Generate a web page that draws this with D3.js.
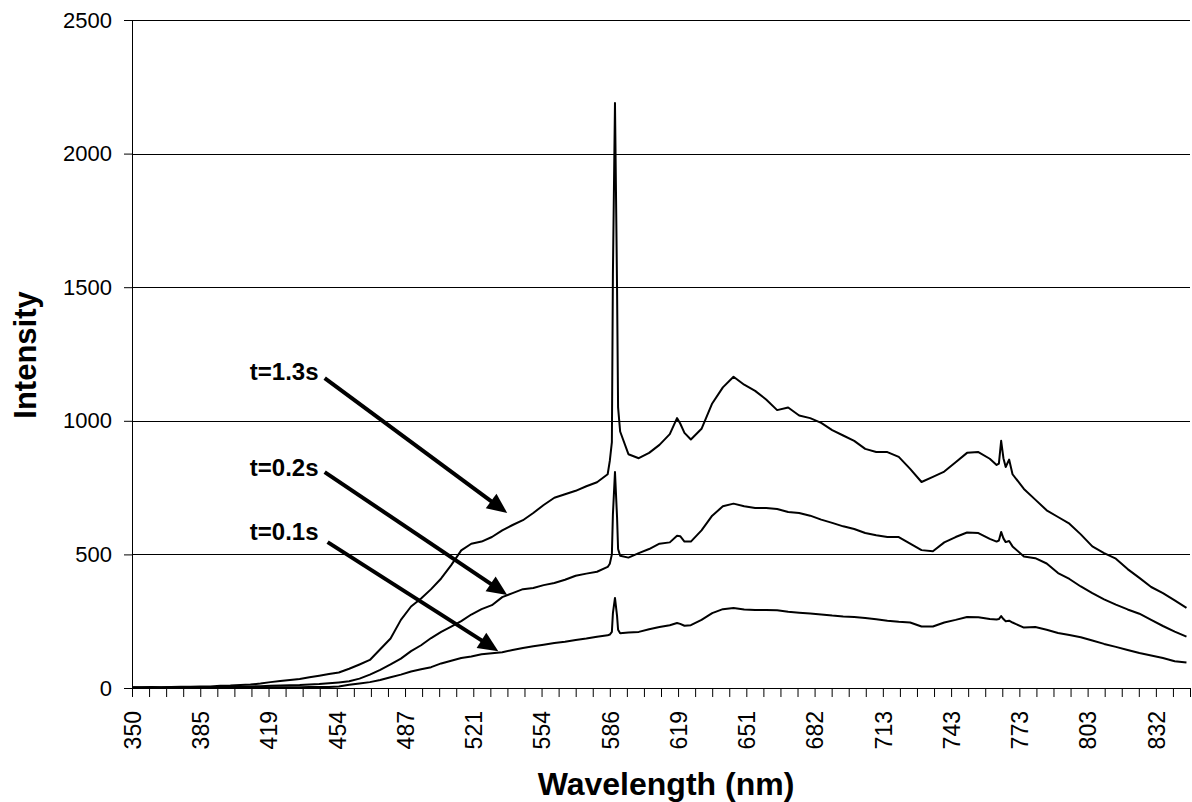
<!DOCTYPE html>
<html>
<head>
<meta charset="utf-8">
<script src="https://cdn.jsdelivr.net/npm/d3@7"></script>
<style>
  body { margin: 0; background: #fff; }
  svg { display: block; }
  text { font-family: "Liberation Sans", Arial, sans-serif; fill: #000; }
</style>
</head>
<body>
<svg id="chart" width="1192" height="802"></svg>
<script>
// ---------------- data ----------------
const tickLabels = [350, 385, 419, 454, 487, 521, 554, 586, 619, 651, 682, 713, 743, 773, 803, 832];
const axisEndWavelength = 846.5;
const yTicks = [0, 500, 1000, 1500, 2000, 2500];

const wavelengths = [
  350,355,360,365,370,375,380,385,390,395,400,405,410,415,420,425,430,435,440,445,450,455,
  460,465,470,475,480,485,490,495,500,505,510,515,520,525,530,535,540,545,550,555,560,565,
  570,575,580,585,
  586,587,587.5,588.5,589.5,590,591,
  595,600,605,610,615,
  618.5,620,622,
  625,630,635,640,645,650,655,660,665,670,675,680,685,690,695,700,705,710,715,720,725,730,
  735,740,745,750,755,760,
  763,764,765,766,767,768.5,770,
  775,780,785,790,795,800,805,810,815,820,825,830,835,840,845
];

const t13 = [
  3,3,4,3,4,5,5,6, 6,8,9,11,13,17, 22,26,30,34,40,46,52,58,
  72,88,105,145,185,255, 305,335,370,410,460,515,540, 548,565,590,610,628,655,
  685,712,725,738,755,770,800,
  850,920,1550,2189,1500,1050,960,
  875,860,880,910,950,
  1010,990,955,
  930,970,1065,1125,1165,1135,1112,1080,1040,1050,1020,1010,992,965,945,925,895,883,883,865,
  820,771,790,810,845,880,883,858,
  835,840,925,860,827,855,800,
  745,705,665,640,615,575,530,505,484,445,412,378,355,328,300
];

const t02 = [
  2,2,2,2,3,3,3,4, 4,4,5,5,6,7, 8,9,10,11,13,15,18,21,
  25,35,50,68,88,110, 138,160,187,210,230,250,275, 295,310,340,355,370,374,
  385,393,405,420,428,435,453,
  465,500,650,808,640,520,495,
  488,505,520,540,545,
  570,568,548,
  548,590,645,680,690,680,674,674,670,659,655,645,630,618,605,595,580,572,565,565,
  540,516,512,545,565,582,580,558,
  548,552,584,560,546,550,530,
  492,486,466,430,408,380,355,332,312,294,278,255,232,211,192
];

const t01 = [
  1,1,1,1,1,1,1,1, 2,2,2,2,2,3, 3,3,3,3,4,4,4,6,
  12,17,22,30,40,50, 62,70,78,92,102,112,118, 126,130,134,142,150,156,
  162,168,173,180,185,192,197,
  200,210,280,337,270,218,205,
  208,210,220,228,235,
  243,240,233,
  235,255,280,295,299,294,292,292,291,285,282,279,275,271,268,266,262,257,252,248,
  245,230,230,245,255,266,265,258,
  256,258,269,258,250,252,245,
  226,228,218,206,198,190,178,165,154,142,131,122,112,100,95
];

const seriesList = [t13, t02, t01];

// annotations: label, text anchor (wavelength, intensity), arrow start, arrow tip
const annLabels = ["t=1.3s", "t=0.2s", "t=0.1s"];
const annTextAt = [[409.7, 1153], [409.7, 793], [409.7, 554]];
const annFrom   = [[447.8, 1160], [447.8, 808], [449.3, 546]];
const annTo     = [[537.4, 655],  [537.4, 348], [533.1, 138]];

// ---------------- layout ----------------
const margin = { left: 132, top: 20 };
const W = 1058, H = 668;
const svg = d3.select("#chart");
const g = svg.append("g").attr("transform", `translate(${margin.left},${margin.top})`);

const nIntervals = tickLabels.length - 0.5; // 15.5 label intervals
const step = W / nIntervals;
const x = d3.scaleLinear()
  .domain([...tickLabels, axisEndWavelength])
  .range([...tickLabels.map((d, i) => i * step), W]);
const y = d3.scaleLinear().domain([0, 2500]).range([H, 0]);

// gridlines
g.append("g").selectAll("line").data(yTicks.filter(d => d > 0)).join("line")
  .attr("x1", 0).attr("x2", W)
  .attr("y1", d => Math.round(y(d)) + 0.5).attr("y2", d => Math.round(y(d)) + 0.5)
  .attr("stroke", "#000").attr("stroke-width", 1);

// y axis
const yAxis = g.append("g")
  .call(d3.axisLeft(y).tickValues(yTicks).tickFormat(d3.format("d"))
    .tickSize(8).tickSizeOuter(0).tickPadding(12));
yAxis.selectAll("text").style("font-size", "22px");
yAxis.select(".domain").attr("stroke", "#000");

// x axis: minor ticks every quarter label interval
const nTicks = (tickLabels.length - 0.5) * 4; // 62
const xi = d3.scaleLinear().domain([0, nTicks]).range([0, W]);
const xAxis = g.append("g").attr("transform", `translate(0,${H})`)
  .call(d3.axisBottom(xi).tickValues(d3.range(0, nTicks + 1)).tickSize(9).tickSizeOuter(0)
    .tickFormat(i => (i % 4 === 0 && tickLabels[i / 4] !== undefined) ? tickLabels[i / 4] : ""));
xAxis.selectAll("text")
  .style("font-size", "23px")
  .attr("transform", "rotate(-90)")
  .attr("text-anchor", "end")
  .attr("x", -23).attr("y", 0).attr("dy", "0.36em");

// series
const line = d3.line().x((d, i) => x(wavelengths[i])).y(d => y(d));
g.append("g").selectAll("path").data(seriesList).join("path")
  .attr("d", d => line(d))
  .attr("fill", "none").attr("stroke", "#000").attr("stroke-width", 2)
  .attr("stroke-linejoin", "round");

// annotations
const ann = g.append("g");
annLabels.forEach((lab, k) => {
  ann.append("text")
    .attr("x", x(annTextAt[k][0])).attr("y", y(annTextAt[k][1]))
    .style("font-size", "24px").style("font-weight", "bold")
    .text(lab);
  const x0 = x(annFrom[k][0]), y0 = y(annFrom[k][1]);
  const x1 = x(annTo[k][0]), y1 = y(annTo[k][1]);
  const dx = x1 - x0, dy = y1 - y0, len = Math.hypot(dx, dy);
  const ux = dx / len, uy = dy / len;
  const headL = 20, headW = 9;
  const bx = x1 - ux * headL, by = y1 - uy * headL;
  ann.append("line")
    .attr("x1", x0).attr("y1", y0).attr("x2", bx + ux * 2).attr("y2", by + uy * 2)
    .attr("stroke", "#000").attr("stroke-width", 4);
  ann.append("path")
    .attr("d", `M${x1},${y1}L${bx - uy * headW},${by + ux * headW}L${bx + uy * headW},${by - ux * headW}Z`)
    .attr("fill", "#000");
});

// axis titles
svg.append("text")
  .attr("transform", `translate(36,355) rotate(-90)`)
  .attr("text-anchor", "middle")
  .style("font-size", "31px").style("font-weight", "bold")
  .text("Intensity");
svg.append("text")
  .attr("x", 666).attr("y", 795)
  .attr("text-anchor", "middle")
  .style("font-size", "32px").style("font-weight", "bold")
  .text("Wavelength (nm)");
</script>
</body>
</html>
